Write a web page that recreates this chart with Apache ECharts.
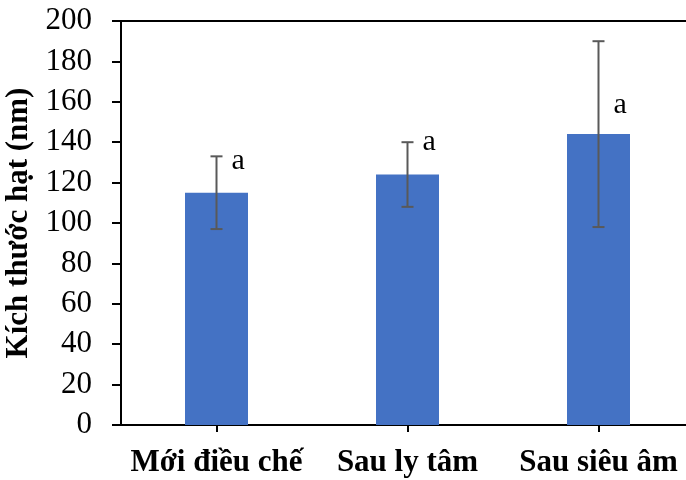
<!DOCTYPE html>
<html>
<head>
<meta charset="utf-8">
<script src="https://cdn.jsdelivr.net/npm/echarts@6/dist/echarts.min.js"></script>
<style>html,body{margin:0;padding:0;background:#fff}#c{width:686px;height:480px}</style>
</head>
<body>
<div id="c"></div>
<script>
var categories = ['Mới điều chế', 'Sau ly tâm', 'Sau siêu âm'];
var sizes = [115, 124, 144];
var errLow = [97, 108, 98];
var errHigh = [133, 140, 190];
var letters = ['a', 'a', 'a'];
var letterAt = [130.7, 140, 158.4];
var yTicks = [0, 20, 40, 60, 80, 100, 120, 140, 160, 180, 200];

var FONT = '"Liberation Serif", "Times New Roman", serif';
var chart = echarts.init(document.getElementById('c'));
chart.setOption({
  animation: false,
  grid: {left: 121, top: 21, width: 573, bottom: 55, containLabel: false, outerBoundsMode: 'none'},
  xAxis: [{
    type: 'category', data: categories,
    axisLine: {lineStyle: {color: '#000', width: 2}},
    axisTick: {show: true, alignWithLabel: true, length: 7, lineStyle: {color: '#000', width: 2}},
    axisLabel: {color: '#000', fontFamily: FONT, fontWeight: 'bold', fontSize: 31, margin: 22, interval: 0}
  }, {
    type: 'category', data: categories, position: 'top',
    axisLine: {show: true, lineStyle: {color: '#000', width: 2}},
    axisTick: {show: false}, axisLabel: {show: false}
  }],
  yAxis: {
    type: 'value', min: yTicks[0], max: yTicks[yTicks.length - 1], interval: 20,
    name: 'Kích thước hạt (nm)', nameLocation: 'middle', nameGap: 83,
    nameTextStyle: {color: '#000', fontFamily: FONT, fontWeight: 'bold', fontSize: 31},
    axisLine: {show: true, lineStyle: {color: '#000', width: 2}},
    axisTick: {show: true, length: 9, lineStyle: {color: '#000', width: 2}},
    axisLabel: {color: '#000', fontFamily: FONT, fontSize: 31, margin: 29},
    splitLine: {show: false}
  },
  series: [{
    type: 'bar', data: sizes, barWidth: 63,
    itemStyle: {color: '#4472C4'}
  }, {
    type: 'custom',
    data: categories.map(function (c, i) { return [i, errLow[i], errHigh[i]]; }),
    renderItem: function (params, api) {
      var i = api.value(0);
      var lo = api.coord([i, api.value(1)]);
      var hi = api.coord([i, api.value(2)]);
      var hw = 6;
      var st = {stroke: '#595959', lineWidth: 2};
      return {type: 'group', children: [
        {type: 'line', shape: {x1: hi[0], y1: hi[1], x2: lo[0], y2: lo[1]}, style: st},
        {type: 'line', shape: {x1: hi[0] - hw, y1: hi[1], x2: hi[0] + hw, y2: hi[1]}, style: st},
        {type: 'line', shape: {x1: lo[0] - hw, y1: lo[1], x2: lo[0] + hw, y2: lo[1]}, style: st}
      ]};
    },
    z: 5
  }, {
    type: 'custom',
    data: categories.map(function (c, i) { return [i, letterAt[i]]; }),
    renderItem: function (params, api) {
      var p = api.coord([api.value(0), api.value(1)]);
      return {type: 'text', x: p[0] + 15, y: p[1], style: {
        text: letters[params.dataIndex], fill: '#000', font: '30px ' + FONT,
        textAlign: 'left', textVerticalAlign: 'middle'
      }};
    },
    z: 6
  }]
});
</script>
</body>
</html>
